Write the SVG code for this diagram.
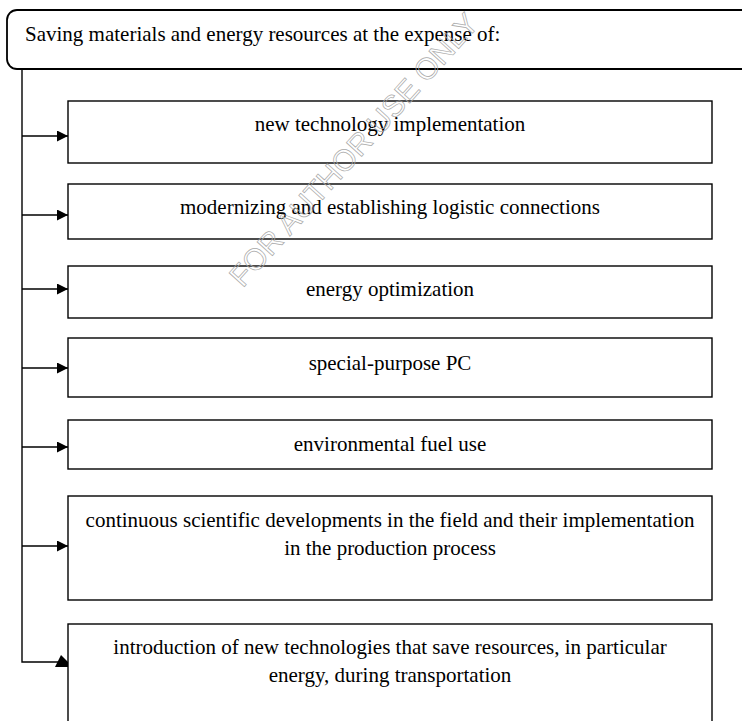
<svg xmlns="http://www.w3.org/2000/svg" width="742" height="721" viewBox="0 0 742 721">
<style>
.box{fill:#fff;stroke:#000;stroke-width:1.4}
.t{font-family:"Liberation Serif","Times New Roman",serif;font-size:21px;fill:#000;text-anchor:middle}
.wm{font-family:"Liberation Sans",Arial,sans-serif;font-size:30px;fill:none;stroke:#a8a8a8;stroke-width:0.7;text-anchor:middle}
.c{fill:none;stroke:#000;stroke-width:1.4}
</style>
<defs>
<marker id="ah" viewBox="0 0 11 11" refX="11" refY="5.5" markerWidth="11" markerHeight="11" markerUnits="userSpaceOnUse" orient="auto">
<path d="M0,0 L11,5.5 L0,11 Z" fill="#000"/>
</marker>
</defs>
<rect width="742" height="721" fill="#fff"/>
<g id="header">
<path class="box" d="M750,10 H17 A10,10 0 0 0 7,20 V59 A10,10 0 0 0 17,69 H750" style="stroke-width:1.8"/>
<text class="t" x="25" y="41" style="text-anchor:start">Saving materials and energy resources at the expense of:</text>
</g>
<g id="n1"><rect class="box" x="68" y="101" width="644" height="62"/><text class="t" x="390" y="131">new technology implementation</text></g>
<g id="n2"><rect class="box" x="68" y="184" width="644" height="55"/><text class="t" x="390" y="214">modernizing and establishing logistic connections</text></g>
<g id="n3"><rect class="box" x="68" y="266" width="644" height="52"/><text class="t" x="390" y="296">energy optimization</text></g>
<g id="n4"><rect class="box" x="68" y="338" width="644" height="59"/><text class="t" x="390" y="370">special-purpose PC</text></g>
<g id="n5"><rect class="box" x="68" y="420" width="644" height="49"/><text class="t" x="390" y="451">environmental fuel use</text></g>
<g id="n6"><rect class="box" x="68" y="496" width="644" height="104"/><text class="t" x="390" y="527">continuous scientific developments in the field and their implementation</text><text class="t" x="390" y="555">in the production process</text></g>
<g id="n7"><rect class="box" x="68" y="624" width="644" height="110"/><text class="t" x="390" y="654">introduction of new technologies that save resources, in particular</text><text class="t" x="390" y="682">energy, during transportation</text></g>
<g id="connectors">
<path class="c" d="M22,69 V662 H58"/>
<path class="c" d="M22,136 H68" marker-end="url(#ah)"/>
<path class="c" d="M22,215 H68" marker-end="url(#ah)"/>
<path class="c" d="M22,289 H68" marker-end="url(#ah)"/>
<path class="c" d="M22,368 H68" marker-end="url(#ah)"/>
<path class="c" d="M22,447 H68" marker-end="url(#ah)"/>
<path class="c" d="M22,546 H68" marker-end="url(#ah)"/>
<polygon points="61,655 55,667 68,667 68,662" fill="#000"/>
</g>
<text class="wm" x="354" y="160" transform="rotate(-48 354 150)">FOR AUTHOR USE ONLY</text>
</svg>
